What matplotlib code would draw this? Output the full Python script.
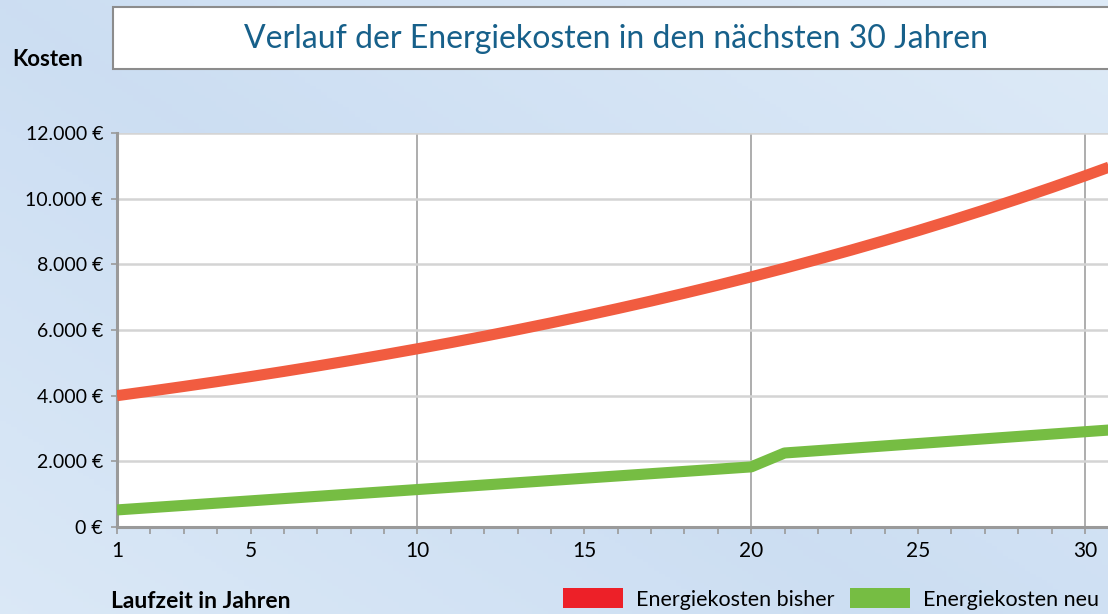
import numpy as np
import matplotlib
matplotlib.use("Agg")
import matplotlib.pyplot as plt
from matplotlib.patches import Patch, Rectangle
from matplotlib.ticker import FixedLocator, FuncFormatter

# data
years = list(range(1, 32))
kosten_bisher = [4000, 4138, 4281, 4428, 4581, 4739, 4903, 5072, 5247, 5428,
                 5615, 5809, 6009, 6216, 6431, 6653, 6882, 7120, 7365, 7619,
                 7882, 8154, 8435, 8726, 9027, 9339, 9661, 9994, 10339, 10696,
                 11064]
kosten_neu = [520, 589, 658, 727, 796, 865, 934, 1003, 1072, 1141,
              1210, 1279, 1348, 1417, 1486, 1555, 1624, 1693, 1762, 1831,
              2254, 2326, 2398, 2470, 2542, 2614, 2686, 2758, 2830, 2902,
              2974]
x_labels = [1, 5, 10, 15, 20, 25, 30]
y_ticks = [0, 2000, 4000, 6000, 8000, 10000, 12000]
vgrid_years = [10, 20, 30]

title = "Verlauf der Energiekosten in den nächsten 30 Jahren"
series_names = ["Energiekosten bisher", "Energiekosten neu"]
line_colors = ["#F15C40", "#76BD43"]
legend_colors = ["#ED2028", "#76BD43"]

plt.rcParams['font.family'] = ['Lato', 'DejaVu Sans']

W, H = 1108, 614
fig = plt.figure(figsize=(W / 100, H / 100), dpi=100)

# light blue gradient background
bg = fig.add_axes([0, 0, 1, 1], zorder=-10)
gx, gy = np.meshgrid(np.linspace(0, 1, 200), np.linspace(0, 1, 200))
g = np.clip(0.55 * gx + 0.45 * (1 - gy), 0, 1)
c0 = np.array([0.80, 0.87, 0.95])
c1 = np.array([0.87, 0.92, 0.97])
t = np.abs(g - 0.45) / 0.55
img = c0[None, None, :] * (1 - t[..., None]) + c1[None, None, :] * t[..., None]
bg.imshow(img, extent=[0, 1, 0, 1], aspect='auto', origin='upper')
bg.set_xlim(0, 1)
bg.set_ylim(0, 1)
bg.axis('off')

# title box
box = Rectangle((113 / W, 1 - 69 / H), 1.0, 62 / H, transform=fig.transFigure,
                facecolor='white', edgecolor='#8C8C8C', linewidth=1.5, zorder=1)
fig.patches.append(box)
fig.text(616 / W, 1 - 39 / H, title, ha='center', va='center', fontsize=23,
         color='#17608A')

fig.text(12 / W, 1 - 60 / H, "Kosten", ha='left', va='center', fontsize=16,
         fontweight='bold', color='black')
fig.text(111 / W, 1 - 601 / H, "Laufzeit in Jahren", ha='left', va='center',
         fontsize=16.5, fontweight='bold', color='black')

# plot area
x_px_per_year = (1085 - 117) / 29
left = 117 / W
width = 30 * x_px_per_year / W
bottom = (H - 527) / H
height = (527 - 133) / H
ax = fig.add_axes([left, bottom, width, height])
ax.set_facecolor('white')

ax.plot(years, kosten_bisher, color=line_colors[0], lw=8, solid_capstyle='butt', zorder=3)
ax.plot(years, kosten_neu, color=line_colors[1], lw=8, solid_capstyle='butt', zorder=3)

ax.set_xlim(1, 31)
ax.set_ylim(0, 12000)

ax.set_yticks(y_ticks)
ax.yaxis.set_major_formatter(FuncFormatter(lambda v, p: f"{int(v):,} €".replace(",", ".")))
ax.grid(axis='y', color='#D4D4D4', lw=1.8, zorder=1)
for yr in vgrid_years:
    ax.axvline(yr, color='#A0A0A0', lw=1.2, zorder=1)

ax.xaxis.set_major_locator(FixedLocator(x_labels))
ax.xaxis.set_minor_locator(FixedLocator(years))
ax.tick_params(axis='x', which='major', labelsize=15, length=5, width=1.2,
               color='#9A9A9A', pad=5)
ax.tick_params(axis='x', which='minor', length=5, width=1.2, color='#9A9A9A')
ax.tick_params(axis='y', labelsize=14, length=4, width=1.2, color='#9A9A9A', pad=6)

for s in ['top', 'right']:
    ax.spines[s].set_visible(False)
for s in ['left', 'bottom']:
    ax.spines[s].set_color('#9A9A9A')
    ax.spines[s].set_linewidth(2.2)

handles = [Patch(facecolor=legend_colors[0]), Patch(facecolor=legend_colors[1])]
fig.legend(handles, series_names, loc='center left',
           bbox_to_anchor=(563 / W, 1 - 599 / H), ncol=2, frameon=False,
           fontsize=15.5, handlelength=2.8, handleheight=1.0, handletextpad=0.6,
           columnspacing=0.7, borderpad=0, borderaxespad=0)

fig.savefig("out.png", dpi=100)
